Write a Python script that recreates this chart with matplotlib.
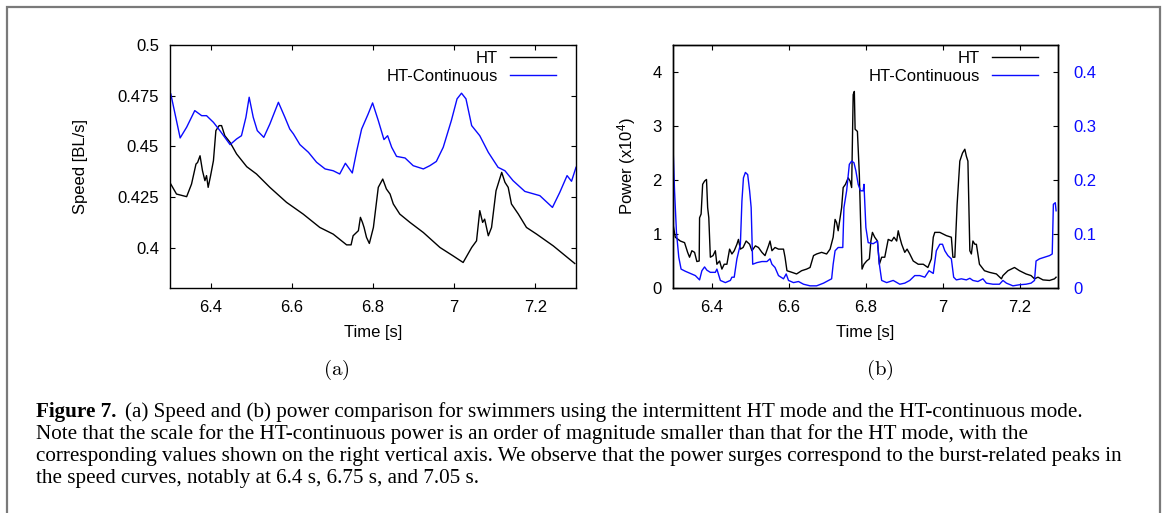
import numpy as np
import matplotlib
matplotlib.use("Agg")
import matplotlib.pyplot as plt
from matplotlib.patches import Rectangle

plt.rcParams['font.family'] = ['Liberation Sans', 'DejaVu Sans']
plt.rcParams['mathtext.fontset'] = 'custom'
plt.rcParams['mathtext.rm'] = 'Liberation Sans'
plt.rcParams['mathtext.it'] = 'Liberation Sans:italic'

BLUE = '#0a0aff'

# (a) speed, HT-Continuous
t_spd_c = [6.302, 6.325, 6.341, 6.361, 6.378, 6.390, 6.407, 6.423, 6.448, 6.464,
           6.476, 6.487, 6.495, 6.505, 6.515, 6.531, 6.546, 6.567, 6.583, 6.595,
           6.604, 6.620, 6.641, 6.661, 6.682, 6.702, 6.718, 6.732, 6.749, 6.760,
           6.772, 6.788, 6.799, 6.813, 6.827, 6.836, 6.846, 6.858, 6.879, 6.899,
           6.924, 6.940, 6.956, 6.973, 6.993, 7.007, 7.018, 7.029, 7.043, 7.063,
           7.084, 7.108, 7.125, 7.145, 7.174, 7.211, 7.242, 7.260, 7.278, 7.289,
           7.300]
spd_c = [0.4758, 0.4541, 0.4594, 0.4676, 0.4651, 0.4651, 0.4618, 0.4577, 0.4508, 0.4536,
         0.4552, 0.4643, 0.4742, 0.4643, 0.4577, 0.4544, 0.4610, 0.4717, 0.4643, 0.4585,
         0.4561, 0.4508, 0.4470, 0.4421, 0.4388, 0.4379, 0.4363, 0.4416, 0.4368, 0.4478,
         0.4585, 0.4659, 0.4714, 0.4627, 0.4533, 0.4552, 0.4495, 0.4450, 0.4442, 0.4404,
         0.4388, 0.4404, 0.4425, 0.4495, 0.4627, 0.4734, 0.4762, 0.4734, 0.4602, 0.4552,
         0.4470, 0.4396, 0.4379, 0.4330, 0.4277, 0.4256, 0.4198, 0.4272, 0.4355, 0.4327,
         0.4396]

# (a) speed, HT
t_spd_ht = [6.302, 6.316, 6.341, 6.353, 6.364, 6.368, 6.374, 6.380, 6.386, 6.390,
            6.394, 6.400, 6.407, 6.413, 6.421, 6.427, 6.435, 6.448, 6.464, 6.489,
            6.513, 6.546, 6.587, 6.628, 6.669, 6.702, 6.735, 6.746, 6.751, 6.764,
            6.769, 6.774, 6.778, 6.784, 6.791, 6.801, 6.813, 6.824, 6.833, 6.842,
            6.850, 6.866, 6.891, 6.924, 6.965, 6.997, 7.022, 7.043, 7.055, 7.063,
            7.070, 7.075, 7.084, 7.092, 7.103, 7.117, 7.125, 7.133, 7.141, 7.158,
            7.178, 7.203, 7.244, 7.297]
spd_ht = [0.4313, 0.4264, 0.4251, 0.4313, 0.4412, 0.4420, 0.4453, 0.4379, 0.4330, 0.4355,
          0.4297, 0.4355, 0.4429, 0.4577, 0.4602, 0.4602, 0.4552, 0.4519, 0.4462, 0.4399,
          0.4363, 0.4297, 0.4223, 0.4165, 0.4099, 0.4066, 0.4013, 0.4013, 0.4058, 0.4083,
          0.4149, 0.4124, 0.4099, 0.4050, 0.4020, 0.4099, 0.4297, 0.4338, 0.4289, 0.4264,
          0.4215, 0.4165, 0.4124, 0.4074, 0.4000, 0.3959, 0.3926, 0.4000, 0.4033, 0.4182,
          0.4124, 0.4140, 0.4058, 0.4099, 0.4280, 0.4371, 0.4322, 0.4297, 0.4215, 0.4165,
          0.4099, 0.4066, 0.4008, 0.3921]

# (b) power, HT (x10^4)
t_pow_ht = [6.300, 6.306, 6.319, 6.330, 6.338, 6.343, 6.349, 6.356, 6.362, 6.368,
            6.369, 6.373, 6.377, 6.382, 6.387, 6.390, 6.393, 6.397, 6.404, 6.410,
            6.414, 6.421, 6.427, 6.433, 6.440, 6.447, 6.453, 6.459, 6.466, 6.470,
            6.475, 6.482, 6.490, 6.499, 6.505, 6.514, 6.522, 6.531, 6.539, 6.548,
            6.552, 6.557, 6.565, 6.574, 6.587, 6.591, 6.596, 6.609, 6.621, 6.634,
            6.647, 6.656, 6.665, 6.673, 6.686, 6.699, 6.708, 6.716, 6.721, 6.725,
            6.729, 6.738, 6.742, 6.748, 6.755, 6.760, 6.764, 6.768, 6.771, 6.773,
            6.779, 6.784, 6.787, 6.791, 6.796, 6.803, 6.810, 6.814, 6.818, 6.824,
            6.831, 6.836, 6.842, 6.850, 6.859, 6.868, 6.874, 6.881, 6.885, 6.889,
            6.894, 6.902, 6.908, 6.915, 6.924, 6.937, 6.950, 6.962, 6.971, 6.976,
            6.980, 6.993, 7.010, 7.023, 7.027, 7.032, 7.038, 7.045, 7.052, 7.058,
            7.062, 7.066, 7.071, 7.075, 7.079, 7.084, 7.088, 7.096, 7.109, 7.122,
            7.140, 7.153, 7.157, 7.170, 7.187, 7.200, 7.217, 7.230, 7.239, 7.248,
            7.261, 7.278, 7.291, 7.295]
pow_ht = [1.18, 0.94, 0.87, 0.84, 0.66, 0.57, 0.69, 0.66, 0.49, 0.50,
          1.30, 1.37, 1.92, 1.98, 2.01, 1.49, 1.30, 0.57, 0.60, 0.69,
          0.44, 0.50, 0.35, 0.44, 0.44, 0.72, 0.63, 0.69, 0.81, 0.90,
          0.72, 0.75, 0.87, 0.81, 0.69, 0.78, 0.75, 0.66, 0.60, 0.78,
          0.87, 0.69, 0.75, 0.72, 0.72, 0.57, 0.32, 0.29, 0.26, 0.32,
          0.35, 0.38, 0.60, 0.63, 0.66, 0.63, 0.72, 0.94, 1.27, 1.21,
          1.06, 1.49, 1.86, 1.92, 2.04, 1.98, 1.86, 3.58, 3.64, 2.94,
          2.90, 2.10, 1.30, 0.35, 0.44, 0.50, 0.54, 0.87, 1.03, 0.94,
          0.87, 0.44, 0.57, 0.57, 0.90, 0.87, 0.94, 0.87, 1.06, 0.94,
          0.81, 0.66, 0.72, 0.63, 0.50, 0.44, 0.44, 0.38, 0.54, 0.94,
          1.03, 1.03, 0.97, 0.94, 0.57, 0.57, 1.55, 2.35, 2.50, 2.57,
          2.44, 2.35, 0.69, 0.63, 0.87, 0.81, 0.81, 0.44, 0.32, 0.29,
          0.26, 0.17, 0.23, 0.32, 0.38, 0.32, 0.26, 0.23, 0.17, 0.20,
          0.15, 0.14, 0.17, 0.20]

# (b) power, HT-Continuous (right axis, x10^4)
t_pow_c = [6.300, 6.304, 6.309, 6.315, 6.321, 6.332, 6.345, 6.358, 6.369, 6.375,
           6.382, 6.388, 6.397, 6.410, 6.414, 6.423, 6.436, 6.449, 6.453, 6.459,
           6.466, 6.475, 6.479, 6.483, 6.488, 6.494, 6.499, 6.503, 6.507, 6.518,
           6.531, 6.544, 6.552, 6.557, 6.565, 6.574, 6.587, 6.594, 6.600, 6.613,
           6.626, 6.639, 6.656, 6.673, 6.691, 6.704, 6.712, 6.716, 6.721, 6.729,
           6.741, 6.744, 6.751, 6.758, 6.764, 6.770, 6.775, 6.781, 6.787, 6.794,
           6.796, 6.801, 6.807, 6.820, 6.831, 6.836, 6.842, 6.855, 6.872, 6.889,
           6.902, 6.915, 6.928, 6.941, 6.954, 6.965, 6.976, 6.984, 6.993, 7.000,
           7.006, 7.014, 7.023, 7.029, 7.036, 7.049, 7.062, 7.071, 7.079, 7.092,
           7.105, 7.114, 7.131, 7.148, 7.157, 7.166, 7.183, 7.200, 7.217, 7.230,
           7.239, 7.243, 7.252, 7.265, 7.278, 7.285, 7.288, 7.293, 7.295]
pow_c = [0.263, 0.180, 0.103, 0.057, 0.035, 0.031, 0.027, 0.023, 0.015, 0.032,
         0.039, 0.033, 0.029, 0.029, 0.035, 0.014, 0.010, 0.014, 0.020, 0.020,
         0.054, 0.081, 0.161, 0.204, 0.214, 0.210, 0.180, 0.149, 0.044, 0.047,
         0.049, 0.049, 0.054, 0.044, 0.038, 0.023, 0.017, 0.026, 0.014, 0.010,
         0.012, 0.007, 0.004, 0.004, 0.009, 0.014, 0.017, 0.044, 0.069, 0.075,
         0.075, 0.149, 0.180, 0.229, 0.235, 0.232, 0.217, 0.192, 0.180, 0.180,
         0.192, 0.112, 0.084, 0.082, 0.087, 0.044, 0.014, 0.010, 0.014, 0.007,
         0.009, 0.014, 0.023, 0.023, 0.020, 0.032, 0.027, 0.069, 0.081, 0.081,
         0.069, 0.060, 0.054, 0.020, 0.015, 0.017, 0.015, 0.018, 0.014, 0.012,
         0.017, 0.009, 0.007, 0.007, 0.014, 0.009, 0.004, 0.006, 0.007, 0.009,
         0.014, 0.050, 0.054, 0.057, 0.060, 0.063, 0.155, 0.158, 0.143]

x_ticks = [6.4, 6.6, 6.8, 7.0, 7.2]
x_labels = ['6.4', '6.6', '6.8', '7', '7.2']
spd_ticks = [0.4, 0.425, 0.45, 0.475, 0.5]
spd_labels = ['0.4', '0.425', '0.45', '0.475', '0.5']
pow_ticks = [0, 1, 2, 3, 4]
pow2_ticks = [0, 0.1, 0.2, 0.3, 0.4]
pow2_labels = ['0', '0.1', '0.2', '0.3', '0.4']

caption_bold = 'Figure 7.'
caption_lines = [
    '(a) Speed and (b) power comparison for swimmers using the intermittent HT mode and the HT-continuous mode.',
    'Note that the scale for the HT-continuous power is an order of magnitude smaller than that for the HT mode, with the',
    'corresponding values shown on the right vertical axis. We observe that the power surges correspond to the burst-related peaks in',
    'the speed curves, notably at 6.4 s, 6.75 s, and 7.05 s.',
]

W, H = 1165, 513
fig = plt.figure(figsize=(W / 100, H / 100), dpi=100)

# grey frame around the figure block
fig.patches.append(Rectangle((7 / W, -0.2), (1160 - 7) / W, 1.2 - 7 / H,
                             transform=fig.transFigure, fill=False,
                             edgecolor='#7a7a7a', linewidth=1.6))

ax_s = fig.add_axes([170 / W, 1 - 288 / H, 406 / W, 243 / H])
ax_p = fig.add_axes([673 / W, 1 - 288 / H, 385 / W, 243 / H])

FS = 12
LW = 1.0


def style_axes(ax):
    for sp in ax.spines.values():
        sp.set_linewidth(1.0)
    ax.tick_params(direction='in', length=3.8, width=0.8, labelsize=FS)
    ax.set_xlim(6.3, 7.3)
    ax.set_xticks(x_ticks)
    ax.set_xticklabels(x_labels)
    ax.tick_params(axis='x', top=True, pad=9)
    ax.set_xlabel('Time [s]', fontsize=FS)
    ax.xaxis.set_label_coords(0.5, -0.152)


legend_kw = dict(loc='upper right', frameon=False, markerfirst=False,
                 fontsize=FS, borderpad=0, borderaxespad=0, handlelength=2.75,
                 handletextpad=0.75, labelspacing=0.16)

# ---- (a) speed
ax_s.plot(t_spd_ht, spd_ht, color='black', lw=LW, label='HT')
ax_s.plot(t_spd_c, spd_c, color=BLUE, lw=LW, label='HT-Continuous')
style_axes(ax_s)
ax_s.set_ylim(0.38, 0.5)
ax_s.set_yticks(spd_ticks)
ax_s.set_yticklabels(spd_labels)
ax_s.tick_params(axis='y', right=True, pad=8)
ax_s.set_ylabel('Speed [BL/s]', fontsize=FS)
ax_s.yaxis.set_label_coords(-0.202, 0.5)
ax_s.legend(bbox_to_anchor=(1 - 20 / 406, 1 - 6 / 243), **legend_kw)

# ---- (b) power
l1, = ax_p.plot(t_pow_ht, pow_ht, color='black', lw=LW, label='HT')
style_axes(ax_p)
ax_p.set_ylim(0, 4.5)
ax_p.set_yticks(pow_ticks)
ax_p.tick_params(axis='y', right=False, pad=8)
ax_p.set_ylabel('Power (x10$^{4}$)', fontsize=FS)
ax_p.yaxis.set_label_coords(-0.09, 0.5)

ax2 = ax_p.twinx()
l2, = ax2.plot(t_pow_c, pow_c, color=BLUE, lw=LW, label='HT-Continuous')
ax2.set_ylim(0, 0.45)
ax2.set_yticks(pow2_ticks)
ax2.set_yticklabels(pow2_labels)
ax2.tick_params(axis='y', direction='in', length=3.8, width=0.8,
                labelsize=FS, labelcolor=BLUE, pad=11)
for sp in ax2.spines.values():
    sp.set_linewidth(1.0)
ax2.legend(handles=[l1, l2], bbox_to_anchor=(1 - 20 / 385, 1 - 6 / 243),
           **legend_kw)

# panel labels
fig.text(336 / W, 1 - 370 / H, r'$\mathrm{(a)}$', ha='center', va='center',
         fontsize=15, math_fontfamily='cm')
fig.text(880 / W, 1 - 370 / H, r'$\mathrm{(b)}$', ha='center', va='center',
         fontsize=15, math_fontfamily='cm')

# caption
CAP_FS = 15.2
x0 = 36 / W
baselines = [417, 439, 461, 483]
tb = fig.text(x0, 1 - baselines[0] / H, caption_bold, fontsize=CAP_FS,
              fontweight='bold', family='Liberation Serif', va='baseline')
fig.canvas.draw()
bw = tb.get_window_extent().width
fig.text(x0 + (bw + 9) / W, 1 - baselines[0] / H, caption_lines[0],
         fontsize=CAP_FS, family='Liberation Serif', va='baseline')
for line, b in zip(caption_lines[1:], baselines[1:]):
    fig.text(x0, 1 - b / H, line, fontsize=CAP_FS, family='Liberation Serif',
             va='baseline')

fig.savefig('out.png', dpi=100)
